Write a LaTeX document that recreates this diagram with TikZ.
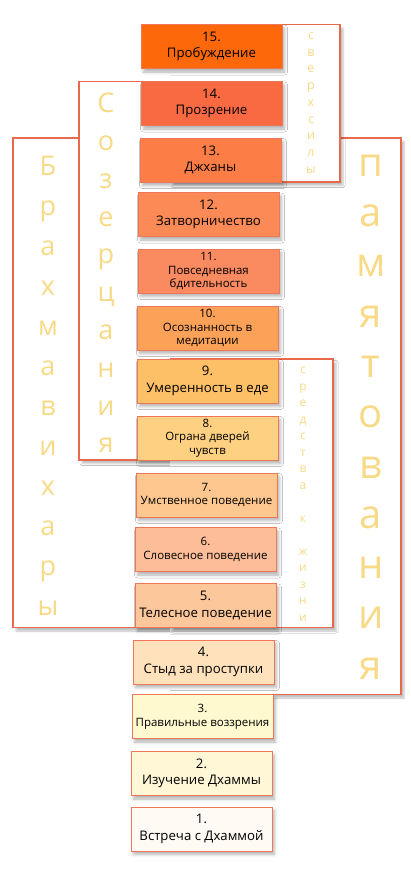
\documentclass[tikz,border=0pt]{standalone}
\usepackage{fontspec}
\setmainfont{Open Sans}
\usetikzlibrary{shadows.blur,backgrounds}
\definecolor{boxline}{HTML}{EE7759}
\definecolor{frameline}{HTML}{E8694C}
\definecolor{gold}{HTML}{F8DA86}
\definecolor{c15}{HTML}{FD680A}
\definecolor{c14}{HTML}{FA6A42}
\definecolor{c13}{HTML}{FC7E46}
\definecolor{c12}{HTML}{FC8A56}
\definecolor{c11}{HTML}{FA8A60}
\definecolor{c10}{HTML}{FBA158}
\definecolor{c9}{HTML}{FEC066}
\definecolor{c8}{HTML}{FED082}
\definecolor{c7}{HTML}{FDC78F}
\definecolor{c6}{HTML}{FDBD98}
\definecolor{c5}{HTML}{FDC79C}
\definecolor{c4}{HTML}{FFE1BC}
\definecolor{c3}{HTML}{FFF9D0}
\definecolor{c2}{HTML}{FFF7D6}
\definecolor{c1}{HTML}{FFFAF3}
\begin{document}
\begin{tikzpicture}[x=1pt,y=-1pt,
	stage/.style={draw=boxline,line width=0.9pt,outer sep=0pt,minimum width=141pt,minimum height=44pt,inner sep=1pt,align=center,
		blur shadow={shadow xshift=2.5pt,shadow yshift=-3.5pt,shadow blur radius=3pt,shadow opacity=30}},
	bigtxt/.style={font=\fontsize{13.2}{16.5}\selectfont},
	smalltxt/.style={font=\fontsize{11.5}{13.5}\selectfont},
	frmshade/.style={blur shadow={shadow xshift=3pt,shadow yshift=-3.5pt,shadow blur radius=2pt,shadow opacity=25}},
	frmline/.style={draw=frameline,line width=1.1pt},
	vword/.style={text=gold,align=center,inner sep=0pt}]
	\useasboundingbox (0,0) rectangle (411,891);
	\node[stage,bigtxt,fill=c15] (s15) at (211.5,46.5) {15.\\Пробуждение};
	\node[stage,bigtxt,fill=c14] (s14) at (211.5,103.5) {14.\\Прозрение};
	\node[stage,bigtxt,fill=c13] (s13) at (210.5,160) {13.\\Джханы};
	\node[stage,bigtxt,fill=c12] (s12) at (208.5,214.5) {12.\\Затворничество};
	\node[stage,smalltxt,fill=c11] (s11) at (208.5,271) {11.\\Повседневная\\бдительность};
	\node[stage,smalltxt,fill=c10] (s10) at (207.5,328) {10.\\Осознанность в\\медитации};
	\node[stage,bigtxt,fill=c9] (s9) at (207.5,381) {9.\\Умеренность в еде};
	\node[stage,smalltxt,fill=c8] (s8) at (207.5,438) {8.\\Ограна дверей\\чувств};
	\node[stage,smalltxt,fill=c7] (s7) at (206.5,495) {7.\\Умственное поведение};
	\node[stage,smalltxt,fill=c6] (s6) at (205.5,549.5) {6.\\Словесное поведение};
	\node[stage,bigtxt,fill=c5] (s5) at (205.5,605.5) {5.\\Телесное поведение};
	\node[stage,bigtxt,fill=c4] (s4) at (203.5,662) {4.\\Стыд за проступки};
	\node[stage,smalltxt,fill=c3] (s3) at (202.5,716.5) {3.\\Правильные воззрения};
	\node[stage,bigtxt,fill=c2] (s2) at (201.5,773.5) {2.\\Изучение Дхаммы};
	\node[stage,bigtxt,fill=c1] (s1) at (201.5,829) {1.\\Встреча с Дхаммой};
	\node[vword,font=\fontsize{27}{40}\selectfont] (brahma) at (48,386) {Б\\р\\а\\х\\м\\а\\в\\и\\х\\а\\р\\ы};
	\node[vword,font=\fontsize{27}{37.8}\selectfont] (contempl) at (106,273) {С\\о\\з\\е\\р\\ц\\а\\н\\и\\я};
	\node[vword,font=\fontsize{40}{50.3}\selectfont] (recoll) at (371,417) {п\\а\\м\\я\\т\\о\\в\\а\\н\\и\\я};
	\node[vword,font=\fontsize{12.5}{16.75}\selectfont] (powers) at (311,103) {с\\в\\е\\р\\х\\с\\и\\л\\ы};
	\node[vword,font=\fontsize{12}{16.5}\selectfont] (livelihood) at (303,494) {с\\р\\е\\д\\с\\т\\в\\а\\\mbox{}\\к\\\mbox{}\\ж\\и\\з\\н\\и};
	\begin{scope}[on background layer]
		\foreach \xo/\xc/\top/\bot in {245/13/s13.north/s5.south,245/79/s14.north/s8.south,170/401/s13.north/s3.north,170/340/s15.north/s13.south,170/333/s9.north/s5.south}
		{
			\fill[white,frmshade] (\xo,0 |- \top) rectangle (\xc,0 |- \bot);
			\draw[frmline] (\xo,0 |- \top) -- (\xc,0 |- \top) -- (\xc,0 |- \bot) -- (\xo,0 |- \bot);
		}
	\end{scope}
\end{tikzpicture}
\end{document}
